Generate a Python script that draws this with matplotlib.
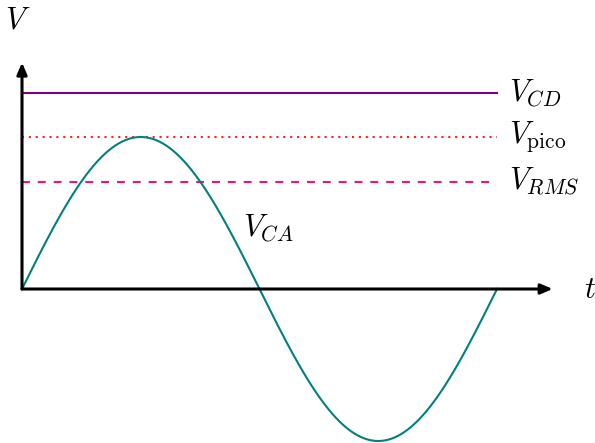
import numpy as np
import matplotlib.pyplot as plt

plt.rcParams['mathtext.fontset'] = 'cm'

# signal levels (peak normalised to 1)
v_peak = 1.0
v_rms = v_peak / np.sqrt(2)
v_dc = 1.29
t_end = 2 * np.pi

level_values = [v_dc, v_peak, v_rms]
level_labels = [r'$V_{CD}$', r'$V_{\mathrm{pico}}$', r'$V_{RMS}$']
level_colors = ['#800080', '#FF2020', '#E8148A']
level_styles = ['-', (0, (1, 2.3)), (0, (3.8, 3.8))]

t = np.linspace(0, t_end, 400)
v_ac = v_peak * np.sin(t)

# pixel scale of the drawing
W, H = 595, 443
ox, oy = 22, 289
sx = 475 / t_end
sy = 152 / v_peak

fig = plt.figure(figsize=(W / 100, H / 100), dpi=100)
ax = fig.add_axes([0, 0, 1, 1])
ax.set_xlim(-ox / sx, (W - ox) / sx)
ax.set_ylim(-(H - oy) / sy, oy / sy)
ax.axis('off')

# axes with arrow heads
arrow = dict(arrowstyle='-|>,head_length=0.7,head_width=0.3', color='black',
             lw=2.2, shrinkA=0, shrinkB=0)
ax.annotate('', xy=(7.02, 0), xytext=(0, 0), arrowprops=arrow)
ax.annotate('', xy=(0, 1.49), xytext=(0, 0), arrowprops=arrow)
ax.text(7.52, 0, r'$t$', fontsize=22, ha='center', va='center')
ax.text(-0.05, 1.77, r'$V$', fontsize=22, ha='center', va='center')

# horizontal reference levels
for val, lab, col, ls in zip(level_values, level_labels, level_colors, level_styles):
    ax.plot([0, t_end], [val, val], color=col, ls=ls, lw=1.5)
    ax.text(t_end + 0.16, val, lab, fontsize=22, ha='left', va='center')

ax.plot(t, v_ac, color='#008080', lw=1.5)
ax.text(2.92, 0.40, r'$V_{CA}$', fontsize=22, ha='left', va='center')

fig.savefig('out.png', dpi=100)
